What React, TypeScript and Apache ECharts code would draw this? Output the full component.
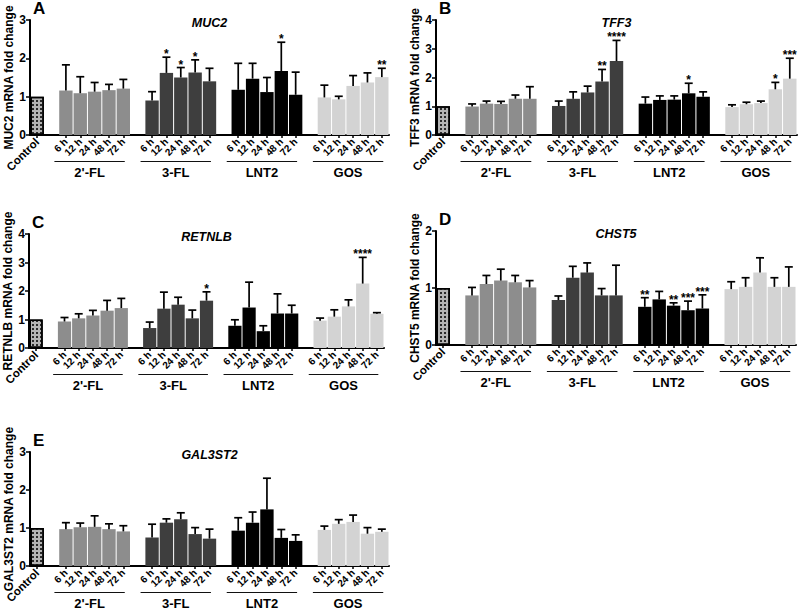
import React, { useEffect, useRef } from 'react';
import * as echarts from 'echarts';

// ---------------- data ----------------
const groups = ["2'-FL", "3-FL", "LNT2", "GOS"];
const times = ["6 h", "12 h", "24 h", "48 h", "72 h"];
const controlLabel = "Control";
const panelLetters = ["A", "B", "C", "D", "E"];
const genes = ["MUC2", "TFF3", "RETNLB", "CHST5", "GAL3ST2"];
const yMax = [3, 4, 4, 2, 3];

// order: Control, 2'-FL(6..72h), 3-FL(6..72h), LNT2(6..72h), GOS(6..72h)
const muc2Mean = [1.0, 1.16, 1.09, 1.13, 1.17, 1.21, 0.90, 1.62, 1.50, 1.63, 1.40, 1.18, 1.47, 1.12, 1.67, 1.05, 0.98, 0.93, 1.28, 1.37, 1.51];
const muc2Upper = [null, 1.83, 1.52, 1.37, 1.32, 1.45, 1.13, 2.03, 1.76, 1.96, 1.74, 1.87, 1.87, 1.50, 2.42, 1.64, 1.30, 1.01, 1.55, 1.62, 1.74];
const muc2Sig = ['', '', '', '', '', '', '', '*', '*', '*', '', '', '', '', '*', '', '', '', '', '', '**'];

const tff3Mean = [1.0, 0.99, 1.09, 1.08, 1.26, 1.26, 1.01, 1.26, 1.48, 1.86, 2.57, 1.09, 1.22, 1.23, 1.45, 1.33, 0.97, 1.07, 1.11, 1.59, 1.96];
const tff3Upper = [null, 1.08, 1.18, 1.17, 1.39, 1.68, 1.18, 1.50, 1.70, 2.28, 3.29, 1.32, 1.36, 1.36, 1.80, 1.50, 1.05, 1.14, 1.18, 1.83, 2.67];
const tff3Sig = ['', '', '', '', '', '', '', '', '', '**', '****', '', '', '', '*', '', '', '', '', '*', '***'];

const retnlbMean = [1.0, 0.93, 1.04, 1.14, 1.31, 1.40, 0.70, 1.38, 1.52, 1.04, 1.66, 0.78, 1.42, 0.59, 1.21, 1.21, 0.96, 1.10, 1.46, 2.26, 1.20];
const retnlbUpper = [null, 1.07, 1.20, 1.32, 1.67, 1.74, 0.91, 1.96, 1.78, 1.33, 1.97, 0.99, 2.31, 0.78, 1.90, 1.50, 1.05, 1.34, 1.69, 3.18, 1.24];
const retnlbSig = ['', '', '', '', '', '', '', '', '', '', '*', '', '', '', '', '', '', '', '', '****', ''];

const chst5Mean = [1.0, 0.87, 1.07, 1.13, 1.10, 1.01, 0.79, 1.18, 1.27, 0.87, 0.87, 0.67, 0.80, 0.69, 0.61, 0.64, 0.98, 1.02, 1.27, 1.02, 1.02];
const chst5Upper = [null, 1.01, 1.22, 1.33, 1.22, 1.13, 0.86, 1.38, 1.44, 0.99, 1.40, 0.83, 0.94, 0.74, 0.77, 0.88, 1.11, 1.18, 1.53, 1.18, 1.37];
const chst5Sig = ['', '', '', '', '', '', '', '', '', '', '', '**', '', '**', '***', '***', '', '', '', '', ''];

const gal3st2Mean = [1.0, 0.97, 1.02, 1.03, 0.97, 0.91, 0.75, 1.14, 1.23, 0.84, 0.72, 0.93, 1.14, 1.49, 0.74, 0.66, 0.95, 1.11, 1.16, 0.85, 0.90];
const gal3st2Upper = [null, 1.14, 1.13, 1.32, 1.11, 1.06, 1.10, 1.24, 1.40, 1.01, 0.97, 1.27, 1.42, 2.31, 0.96, 0.82, 1.05, 1.22, 1.34, 1.01, 0.97];
const gal3st2Sig = ['', '', '', '', '', '', '', '', '', '', '', '', '', '', '', '', '', '', '', '', ''];

const means = [muc2Mean, tff3Mean, retnlbMean, chst5Mean, gal3st2Mean];
const uppers = [muc2Upper, tff3Upper, retnlbUpper, chst5Upper, gal3st2Upper];
const sigs = [muc2Sig, tff3Sig, retnlbSig, chst5Sig, gal3st2Sig];

// ---------------- layout & style ----------------
const FONT = '"Liberation Sans", Arial, Helvetica, sans-serif';
const layouts = [
  { left: 30, top: 20, width: 359, height: 115, nameGap: 15 },
  { left: 436, top: 20, width: 361, height: 115, nameGap: 15 },
  { left: 29, top: 234, width: 355, height: 114, nameGap: 11.5 },
  { left: 436, top: 231, width: 360, height: 114, nameGap: 15 },
  { left: 30, top: 452, width: 359, height: 114, nameGap: 12 },
];
const groupColors = ['#8d8d8d', '#3e3e3e', '#000000', '#d3d3d3'];

// category slots: Control, gap, 5 bars, gap, 5 bars ...
const slots: string[] = [controlLabel];
groups.forEach((g, gi) => {
  slots.push('gap' + gi);
  times.forEach((t) => slots.push(g + '|' + t));
});
const slotOf = (k: number) => (k === 0 ? 0 : 2 + Math.floor((k - 1) / 5) * 6 + ((k - 1) % 5));

export default function App() {
  const ref = useRef<HTMLDivElement>(null);
  useEffect(() => {
    const chart = echarts.init(ref.current!, null, { renderer: 'svg', width: 800, height: 611 });

    const grids: any[] = [];
    const xAxes: any[] = [];
    const yAxes: any[] = [];
    const series: any[] = [];
    const titles: any[] = [];

    layouts.forEach((L, i) => {
      grids.push({ left: L.left, top: L.top, width: L.width, height: L.height, containLabel: false });
      xAxes.push({
        type: 'category',
        gridIndex: i,
        data: slots,
        boundaryGap: true,
        axisLine: { lineStyle: { color: '#000', width: 2 } },
        axisTick: {
          show: true,
          alignWithLabel: true,
          length: 3,
          lineStyle: { color: '#000', width: 1.5 },
          interval: (_idx: number, val: string) => !String(val).startsWith('gap'),
        },
        axisLabel: {
          interval: 0,
          rotate: 45,
          margin: 5,
          color: '#000',
          fontFamily: FONT,
          fontWeight: 'bold',
          fontSize: 10,
          formatter: (v: string) => {
            if (v.startsWith('gap')) return '';
            if (v === controlLabel) return '{c|' + v + '}';
            return v.split('|')[1];
          },
          rich: { c: { fontSize: 11.5, fontWeight: 'bold', fontFamily: FONT, color: '#000' } },
        },
        splitLine: { show: false },
      });
      yAxes.push({
        type: 'value',
        gridIndex: i,
        min: 0,
        max: yMax[i],
        interval: 1,
        name: genes[i] + ' mRNA fold change',
        nameLocation: 'middle',
        nameGap: L.nameGap,
        nameTextStyle: { fontWeight: 'bold', fontSize: 12, color: '#000', fontFamily: FONT },
        axisLine: { show: true, lineStyle: { color: '#000', width: 2 } },
        axisTick: { show: true, length: 4, lineStyle: { color: '#000', width: 1.5 } },
        axisLabel: { fontWeight: 'bold', fontSize: 12, color: '#000', margin: 4, fontFamily: FONT },
        splitLine: { show: false },
      });

      const barData: any[] = slots.map(() => '-');
      const errData: any[] = [];
      means[i].forEach((m, k) => {
        const s = slotOf(k);
        if (k === 0) {
          barData[s] = {
            value: m,
            itemStyle: {
              color: '#b4b4b4',
              borderColor: '#000',
              borderWidth: 1.5,
              decal: {
                symbol: 'rect',
                symbolSize: 1,
                color: '#2a2a2a',
                dashArrayX: [2, 2],
                dashArrayY: [2, 2],
                rotation: 0,
              },
            },
          };
        } else {
          const gi = Math.floor((k - 1) / 5);
          barData[s] = { value: m, itemStyle: { color: groupColors[gi] } };
          const u = uppers[i][k];
          if (u != null) errData.push([s, m, u, k]);
        }
      });

      series.push({
        type: 'bar',
        xAxisIndex: i,
        yAxisIndex: i,
        data: barData,
        barCategoryGap: '7%',
        silent: true,
      });
      const sigArr = sigs[i];
      series.push({
        type: 'custom',
        xAxisIndex: i,
        yAxisIndex: i,
        encode: { x: 0, y: [1, 2] },
        data: errData,
        z: 5,
        silent: true,
        renderItem: (_params: any, api: any) => {
          const x = api.value(0);
          const m = api.value(1);
          const u = api.value(2);
          const k = api.value(3);
          const p0 = api.coord([x, m]);
          const p1 = api.coord([x, u]);
          const st = { stroke: '#000', lineWidth: 1.7 };
          const children: any[] = [
            { type: 'line', shape: { x1: p0[0], y1: p0[1], x2: p1[0], y2: p1[1] }, style: st },
            { type: 'line', shape: { x1: p1[0] - 4, y1: p1[1], x2: p1[0] + 4, y2: p1[1] }, style: st },
          ];
          const sg = sigArr[k];
          if (sg) {
            children.push({
              type: 'text',
              x: p1[0],
              y: p1[1] + 3,
              style: {
                text: sg,
                fill: '#000',
                font: 'bold 12px ' + FONT,
                align: 'center',
                verticalAlign: 'bottom',
                textAlign: 'center',
                textVerticalAlign: 'bottom',
              },
            });
          }
          return { type: 'group', children };
        },
      });

      titles.push({
        text: genes[i],
        left: L.left + L.width / 2,
        top: L.top - 4,
        textAlign: 'center',
        padding: 0,
        textStyle: { fontStyle: 'italic', fontWeight: 'bold', fontSize: 12.5, color: '#000', fontFamily: FONT },
      });
      titles.push({
        text: panelLetters[i],
        left: L.left + 3,
        top: L.top - 20,
        padding: 0,
        textStyle: { fontWeight: 'bold', fontSize: 17, color: '#000', fontFamily: FONT },
      });
    });

    chart.setOption({
      animation: false,
      backgroundColor: '#ffffff',
      title: titles,
      grid: grids,
      xAxis: xAxes,
      yAxis: yAxes,
      series,
    });

    const graphics: any[] = [];
    layouts.forEach((L, i) => {
      const pitch = L.width / slots.length;
      groups.forEach((g, gi) => {
        const a = chart.convertToPixel({ gridIndex: i }, [slotOf(1 + gi * 5), 0]) as number[];
        const b = chart.convertToPixel({ gridIndex: i }, [slotOf(5 + gi * 5), 0]) as number[];
        const x1 = a[0] - 0.8 * pitch;
        const x2 = b[0] + 0.1 * pitch;
        const y = a[1];
        graphics.push({
          type: 'line',
          silent: true,
          shape: { x1, y1: y + 26.5, x2, y2: y + 26.5 },
          style: { stroke: '#111', lineWidth: 1.2 },
        });
        graphics.push({
          type: 'text',
          silent: true,
          x: (x1 + x2) / 2,
          y: y + 37.5,
          style: {
            text: g,
            fill: '#000',
            font: 'bold 13px ' + FONT,
            align: 'center',
            verticalAlign: 'middle',
            textAlign: 'center',
            textVerticalAlign: 'middle',
          },
        });
      });
    });
    chart.setOption({ graphic: graphics });

    return () => chart.dispose();
  }, []);

  return (
    <div
      ref={ref}
      style={{ position: 'fixed', left: 0, top: 0, width: 800, height: 611, background: '#fff' }}
    />
  );
}
